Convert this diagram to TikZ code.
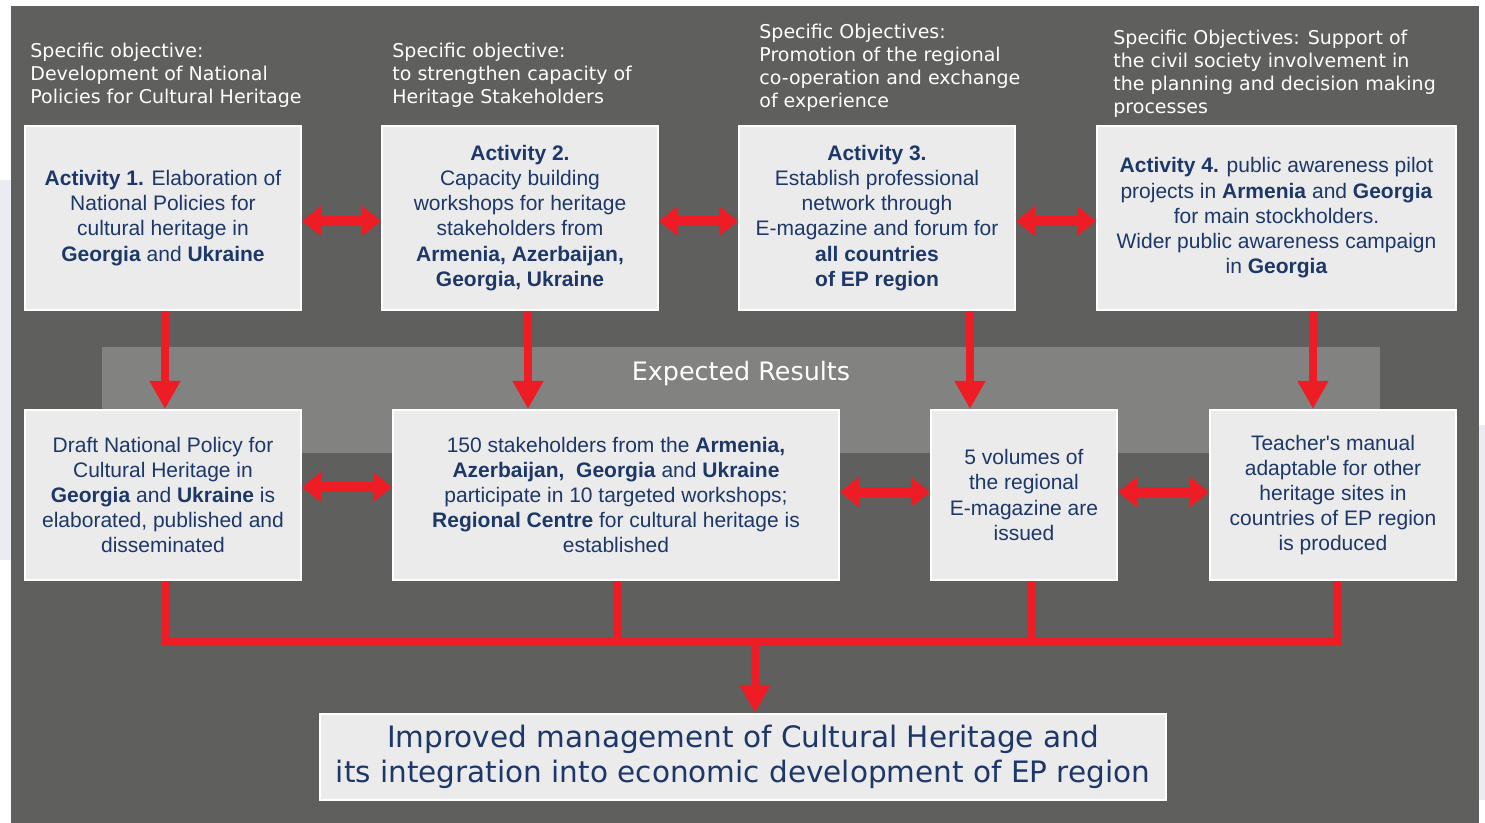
\documentclass[tikz,border=0pt]{standalone}
\usepackage{fontspec}
\setmainfont{Liberation Sans}
\newfontfamily\verd{DejaVu Sans}
\usetikzlibrary{arrows.meta,calc}
\definecolor{bgdark}{HTML}{5F5F5D}
\definecolor{band}{HTML}{828280}
\definecolor{boxfill}{HTML}{EBEBEB}
\definecolor{navy}{HTML}{1C3768}
\definecolor{redarr}{HTML}{EE1C25}
\definecolor{mapblue}{HTML}{EAEBF3}
\begin{document}
\begin{tikzpicture}[x=0.5pt,y=-0.5pt,
  box/.style={draw=white,line width=1pt,fill=boxfill,text=navy,align=center,inner sep=0pt,
    font=\fontsize{10.5}{12.6}\selectfont,execute at begin node={\rule{0pt}{10.7pt}}},
  head/.style={text=white,align=left,anchor=west,inner sep=0pt,
    font=\verd\fontsize{9.5}{11.5}\selectfont},
  vconn/.style={draw=redarr,line width=4.3pt,-{Triangle[length=14pt,width=14.5pt]}},
  hconn/.style={draw=redarr,line width=4.8pt,{Triangle[length=9.5pt,width=14.5pt]}-{Triangle[length=9.5pt,width=14.5pt]}},
  bus/.style={draw=redarr,line width=4.3pt,line join=miter}]
\useasboundingbox (0,0) rectangle (1485,823);
\fill[white] (0,0) rectangle (1485,823);
\fill[mapblue] (0,180) rectangle (11,560);
\fill[mapblue] (1478,425) rectangle (1485,800);
\fill[bgdark] (11,6) rectangle (1479,823);
\fill[band] (102,347) rectangle (1380,453);
\node[text=white,font=\verd\fontsize{12.7}{15}\selectfont,inner sep=0pt] (er) at (741,373) {Expected Results};

% headings
\node[head] (h1) at (30,75) {Specific objective:\\Development of National\\Policies for Cultural Heritage};
\node[head] (h2) at (392,75) {Specific objective:\\to strengthen capacity of\\Heritage Stakeholders};
\node[head] (h3) at (759,68) {Specific Objectives:\\Promotion of the regional\\co-operation and exchange\\of experience};
\node[head] (h4) at (1113,74) {Specific Objectives: Support of\\the civil society involvement in\\the planning and decision making\\processes};

% activity boxes
\node[box,minimum width=138pt,minimum height=92pt] (a1) at (163,218)
  {\textbf{Activity 1.} Elaboration of\\National Policies for\\cultural heritage in\\\textbf{Georgia} and \textbf{Ukraine}};
\node[box,minimum width=138pt,minimum height=92pt] (a2) at (520,218)
  {\textbf{Activity 2.}\\Capacity building\\workshops for heritage\\stakeholders from\\\textbf{Armenia, Azerbaijan,}\\\textbf{Georgia, Ukraine}};
\node[box,minimum width=138pt,minimum height=92pt] (a3) at (877,218)
  {\textbf{Activity 3.}\\Establish professional\\network through\\E-magazine and forum for\\\textbf{all countries}\\\textbf{of EP region}};
\node[box,minimum width=179.5pt,minimum height=92pt] (a4) at (1276.5,218)
  {\textbf{Activity 4.} public awareness pilot\\projects in \textbf{Armenia} and \textbf{Georgia}\\for main stockholders.\\Wider public awareness campaign\\in \textbf{Georgia}};

% result boxes
\node[box,minimum width=138pt,minimum height=85pt] (r1) at (163,495)
  {Draft National Policy for\\Cultural Heritage in\\\textbf{Georgia} and \textbf{Ukraine} is\\elaborated, published and\\disseminated};
\node[box,minimum width=223pt,minimum height=85pt] (r2) at (616,495)
  {150 stakeholders from the \textbf{Armenia,}\\\textbf{Azerbaijan,\ \ Georgia} and \textbf{Ukraine}\\participate in 10 targeted workshops;\\\textbf{Regional Centre} for cultural heritage is\\established};
\node[box,minimum width=93pt,minimum height=85pt] (r3) at (1024,495)
  {5 volumes of\\the regional\\E-magazine are\\issued};
\node[box,minimum width=123pt,minimum height=85pt] (r4) at (1333,495)
  {Teacher\textquotesingle s manual\\adaptable for other\\heritage sites in\\countries of EP region\\is produced};

% final box
\node[box,minimum width=423pt,minimum height=43pt,font=\verd\fontsize{14.75}{17.5}\selectfont,
  execute at begin node={\rule{0pt}{15.2pt}}] (fin) at (743,757)
  {Improved management of Cultural Heritage and\\its integration into economic development of EP region};

% column coordinates
\coordinate (x1) at (165,0);
\coordinate (x2) at (528,0);
\coordinate (x3) at (970,0);
\coordinate (x4) at (1313,0);
\coordinate (c1) at (166,0);
\coordinate (c2) at (617,0);
\coordinate (c3) at (1032,0);
\coordinate (c4) at (1337,0);
\coordinate (c5) at (755,0);
\coordinate (busy) at (0,642);
\coordinate (yt) at (0,221);
\coordinate (yb1) at (0,487);
\coordinate (yb2) at (0,492);

% vertical arrows
\draw[vconn] (a1.south -| x1) -- (r1.north -| x1);
\draw[vconn] (a2.south -| x2) -- (r2.north -| x2);
\draw[vconn] (a3.south -| x3) -- (r3.north -| x3);
\draw[vconn] (a4.south -| x4) -- (r4.north -| x4);

% horizontal double arrows
\draw[hconn] (a1.east |- yt) -- (a2.west |- yt);
\draw[hconn] (a2.east |- yt) -- (a3.west |- yt);
\draw[hconn] (a3.east |- yt) -- (a4.west |- yt);
\draw[hconn] (r1.east |- yb1) -- (r2.west |- yb1);
\draw[hconn] (r2.east |- yb2) -- (r3.west |- yb2);
\draw[hconn] (r3.east |- yb2) -- (r4.west |- yb2);

% bus
\draw[bus] (r1.south -| c1) -- (c1 |- busy) -- (c4 |- busy) -- (r4.south -| c4);
\draw[bus] (r2.south -| c2) -- (c2 |- busy);
\draw[bus] (r3.south -| c3) -- (c3 |- busy);
\draw[vconn] (c5 |- busy) -- (fin.north -| c5);
\end{tikzpicture}
\end{document}
